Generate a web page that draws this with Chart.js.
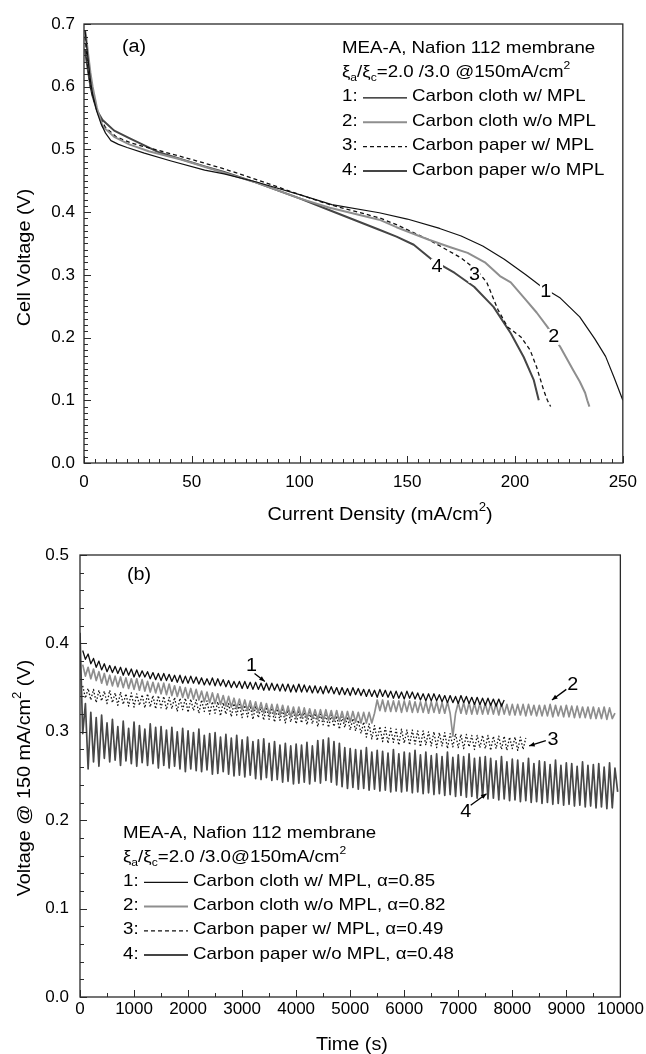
<!DOCTYPE html>
<html>
<head>
<meta charset="utf-8">
<script src="https://cdn.jsdelivr.net/npm/chart.js@4.4.1/dist/chart.umd.min.js"></script>
<style>
  html, body { margin: 0; padding: 0; background: #fff; }
  #wrap { position: relative; width: 646px; height: 1054px; overflow: hidden; background: #fff; }
  canvas { position: absolute; left: 0; }
  #polar { top: 0; }
  #durab { top: 530px; }
</style>
</head>
<body>
<div id="wrap">
  <canvas id="polar" width="646" height="530"></canvas>
  <canvas id="durab" width="646" height="524"></canvas>
</div>
<script>
// ===== (a) polarization curves: current density (mA/cm2) vs cell voltage (V) =====
const xTicksA = [0, 50, 100, 150, 200, 250];
const yTicksA = [0, 0.1, 0.2, 0.3, 0.4, 0.5, 0.6, 0.7];

const c1Current = [0.5,1,2,3,4,6,8,10,12.5,16,20,28,40,56,65,80,100,115,137,150,165,175,185,195,205,212,221,230,237,242,246,250];
const c1Voltage = [0.690,0.672,0.640,0.610,0.588,0.560,0.540,0.526,0.514,0.508,0.503,0.494,0.482,0.467,0.461,0.448,0.428,0.412,0.399,0.389,0.374,0.362,0.346,0.325,0.300,0.282,0.263,0.233,0.198,0.170,0.136,0.100];

const c2Current = [0.5,1,2,3,4,6,8.6,14,21,30,45,60,80,100,114,137,145,160,170,178,186,193,198,205,210,215,221,227,230,232.5,233.5,234.5];
const c2Voltage = [0.690,0.680,0.650,0.622,0.600,0.566,0.537,0.520,0.508,0.497,0.484,0.468,0.447,0.422,0.407,0.388,0.376,0.356,0.344,0.335,0.320,0.298,0.288,0.260,0.240,0.217,0.185,0.148,0.130,0.112,0.100,0.090];

const c3Current = [0.5,1,2,3,4,7,10,15,22,35,50,65,80,100,114,137,145,160,175,183,187,192,196.5,202.7,207,210,213.3,215,216.5];
const c3Voltage = [0.680,0.660,0.625,0.600,0.585,0.552,0.535,0.520,0.510,0.498,0.484,0.469,0.452,0.428,0.412,0.391,0.380,0.356,0.327,0.305,0.287,0.245,0.217,0.201,0.180,0.153,0.116,0.100,0.090];

const c4Current = [0.5,1,2,3,4,6,8.6,14,21,35,56,65,80,100,114,137,145,153,161.5,172,181,190,198,204,208.7,211];
const c4Voltage = [0.660,0.645,0.622,0.600,0.585,0.562,0.547,0.530,0.518,0.495,0.473,0.464,0.447,0.422,0.403,0.372,0.361,0.348,0.324,0.303,0.281,0.249,0.207,0.169,0.132,0.100];

const legendA = ["Carbon cloth w/ MPL", "Carbon cloth w/o MPL", "Carbon paper w/ MPL", "Carbon paper w/o MPL"];
// curve number labels (current, voltage)
const curveTagsA = [["1", 214.3, 0.273], ["2", 217.9, 0.201], ["3", 181.2, 0.300], ["4", 163.8, 0.313]];

// ===== (b) voltage @150 mA/cm2 vs time (s), one reading every 50 s =====
const xTicksB = [0, 1000, 2000, 3000, 4000, 5000, 6000, 7000, 8000, 9000, 10000];
const yTicksB = [0, 0.1, 0.2, 0.3, 0.4, 0.5];
const timeStep = 50;

const s1Start = 50;
const s1Volt = [
  0.392,0.382,0.388,0.377,0.383,0.373,0.380,0.370,0.377,0.368,
  0.375,0.367,0.374,0.366,0.373,0.364,0.372,0.364,0.371,0.362,
  0.370,0.362,0.369,0.362,0.368,0.360,0.367,0.359,0.366,0.358,
  0.366,0.358,0.365,0.357,0.364,0.356,0.364,0.355,0.363,0.355,
  0.363,0.355,0.362,0.354,0.361,0.353,0.360,0.353,0.361,0.352,
  0.360,0.352,0.359,0.351,0.358,0.350,0.357,0.350,0.357,0.349,
  0.357,0.349,0.356,0.348,0.356,0.348,0.355,0.347,0.355,0.347,
  0.355,0.347,0.354,0.346,0.354,0.346,0.354,0.345,0.353,0.345,
  0.354,0.345,0.353,0.345,0.352,0.344,0.352,0.344,0.351,0.343,
  0.352,0.344,0.351,0.343,0.350,0.342,0.350,0.342,0.349,0.341,
  0.350,0.342,0.349,0.341,0.348,0.340,0.348,0.340,0.347,0.339,
  0.348,0.340,0.347,0.339,0.346,0.338,0.346,0.338,0.345,0.337,
  0.346,0.338,0.345,0.337,0.344,0.336,0.343,0.335,0.343,0.335,
  0.343,0.335,0.342,0.334,0.341,0.333,0.341,0.333,0.340,0.332,
  0.341,0.333,0.340,0.332,0.339,0.331,0.339,0.331,0.338,0.330,
  0.338,0.330,0.337,0.329,0.337,0.329,0.336
];

const s2Start = 50;
const s2Volt = [
  0.376,0.363,0.373,0.360,0.371,0.358,0.368,0.355,0.366,0.353,
  0.364,0.352,0.363,0.351,0.362,0.350,0.361,0.349,0.360,0.348,
  0.360,0.347,0.359,0.346,0.357,0.345,0.356,0.344,0.355,0.343,
  0.355,0.342,0.354,0.341,0.352,0.340,0.351,0.339,0.350,0.338,
  0.349,0.337,0.348,0.336,0.346,0.334,0.345,0.333,0.344,0.332,
  0.343,0.331,0.341,0.329,0.340,0.328,0.338,0.326,0.337,0.325,
  0.336,0.324,0.335,0.323,0.334,0.322,0.333,0.321,0.332,0.320,
  0.331,0.319,0.331,0.319,0.330,0.318,0.329,0.317,0.328,0.316,
  0.328,0.316,0.327,0.315,0.326,0.315,0.325,0.314,0.325,0.313,
  0.325,0.313,0.324,0.312,0.324,0.312,0.323,0.311,0.323,0.311,
  0.323,0.311,0.322,0.310,0.322,0.310,0.322,0.310,0.321,0.336,
  0.324,0.336,0.323,0.335,0.323,0.335,0.323,0.335,0.322,0.335,
  0.323,0.335,0.322,0.334,0.322,0.334,0.322,0.334,0.321,0.334,
  0.322,0.334,0.321,0.333,0.321,0.334,0.321,0.295,0.321,0.333,
  0.321,0.333,0.320,0.333,0.320,0.332,0.320,0.332,0.320,0.332,
  0.320,0.332,0.320,0.332,0.319,0.332,0.320,0.331,0.319,0.331,
  0.319,0.331,0.319,0.331,0.318,0.331,0.319,0.330,0.318,0.330,
  0.318,0.330,0.318,0.331,0.317,0.330,0.318,0.329,0.317,0.330,
  0.317,0.329,0.316,0.329,0.316,0.328,0.316,0.328,0.315,0.328,
  0.315,0.327,0.315,0.328,0.314,0.327,0.315,0.321
];

const s3Start = 50;
const s3Volt = [
  0.352,0.338,0.349,0.336,0.348,0.333,0.347,0.335,0.346,0.332,
  0.347,0.333,0.344,0.330,0.345,0.331,0.343,0.329,0.344,0.328,
  0.343,0.330,0.342,0.327,0.343,0.328,0.341,0.326,0.341,0.327,
  0.340,0.325,0.339,0.326,0.339,0.323,0.338,0.325,0.338,0.322,
  0.337,0.324,0.336,0.321,0.336,0.323,0.335,0.320,0.334,0.321,
  0.334,0.318,0.333,0.320,0.332,0.317,0.332,0.319,0.331,0.316,
  0.330,0.317,0.330,0.314,0.329,0.316,0.328,0.313,0.328,0.314,
  0.327,0.311,0.326,0.313,0.325,0.310,0.325,0.311,0.324,0.309,
  0.323,0.310,0.322,0.308,0.322,0.309,0.321,0.306,0.320,0.308,
  0.319,0.305,0.319,0.306,0.318,0.303,0.317,0.305,0.317,0.302,
  0.315,0.301,0.313,0.298,0.311,0.294,0.309,0.292,0.307,0.290,
  0.306,0.289,0.305,0.287,0.304,0.288,0.303,0.285,0.303,0.287,
  0.302,0.285,0.302,0.286,0.301,0.283,0.301,0.285,0.300,0.284,
  0.300,0.282,0.299,0.284,0.299,0.281,0.298,0.283,0.298,0.282,
  0.297,0.281,0.297,0.283,0.296,0.280,0.296,0.282,0.296,0.281,
  0.296,0.279,0.295,0.281,0.295,0.280,0.295,0.279,0.294,0.281,
  0.294,0.279,0.294,0.280,0.293
];

const s4Start = 0;
const s4Volt = [
  0.412,
  0.298,0.332,0.258,0.322,0.266,0.316,0.261,0.319,0.270,0.310,
  0.266,0.314,0.268,0.306,0.262,0.312,0.267,0.304,0.264,0.311,
  0.261,0.307,0.265,0.303,0.262,0.309,0.264,0.305,0.259,0.306,
  0.262,0.302,0.259,0.305,0.261,0.300,0.258,0.304,0.255,0.301,
  0.258,0.299,0.256,0.303,0.255,0.296,0.257,0.298,0.252,0.299,
  0.253,0.294,0.255,0.297,0.252,0.293,0.250,0.296,0.251,0.291,
  0.249,0.294,0.251,0.289,0.247,0.291,0.246,0.292,0.248,0.287,
  0.245,0.289,0.246,0.285,0.243,0.287,0.244,0.284,0.241,0.286,
  0.242,0.285,0.243,0.288,0.241,0.284,0.244,0.290,0.242,0.291,
  0.245,0.293,0.243,0.289,0.240,0.287,0.238,0.282,0.236,0.281,
  0.237,0.280,0.235,0.279,0.236,0.282,0.234,0.277,0.235,0.279,
  0.233,0.278,0.234,0.276,0.232,0.280,0.233,0.275,0.232,0.277,
  0.233,0.276,0.231,0.279,0.232,0.274,0.230,0.277,0.231,0.273,
  0.229,0.275,0.230,0.272,0.228,0.277,0.229,0.271,0.227,0.274,
  0.228,0.272,0.226,0.275,0.227,0.270,0.225,0.271,0.226,0.272,
  0.224,0.270,0.225,0.267,0.223,0.272,0.224,0.266,0.222,0.269,
  0.223,0.268,0.221,0.265,0.222,0.270,0.220,0.264,0.221,0.267,
  0.219,0.266,0.220,0.263,0.218,0.268,0.219,0.262,0.217,0.265,
  0.218,0.264,0.216,0.261,0.217,0.266,0.215,0.262,0.216,0.263,
  0.214,0.264,0.215,0.260,0.213,0.265,0.214,0.259,0.232
];

const legendB = ["Carbon cloth w/ MPL, \u03b1=0.85", "Carbon cloth w/o MPL, \u03b1=0.82", "Carbon paper w/ MPL, \u03b1=0.49", "Carbon paper w/o MPL, \u03b1=0.48"];
// number label (time, volt) and arrow tail -> tip (time, volt)
const curveTagsB = [
  ["1", 3174, 0.374, 3230, 0.366, 3420, 0.357],
  ["2", 9119, 0.353, 9000, 0.348, 8734, 0.336],
  ["3", 8752, 0.291, 8620, 0.290, 8312, 0.284],
  ["4", 7138, 0.209, 7230, 0.217, 7523, 0.230]
];

// ---------------------------------------------------------------
const FONT = '"Liberation Sans", Arial, Helvetica, sans-serif';
const INK = "#000";
const STRETCH = 1.1;

// line looks per curve number: 1 thin black, 2 light grey, 3 dashed black, 4 dark grey
const looks = [
  { color: "#111", width: 1.2, dash: [] },
  { color: "#8e8e8e", width: 2, dash: [] },
  { color: "#111", width: 1.3, dash: [4, 3] },
  { color: "#454545", width: 2, dash: [] }
];

function pairUp(xs, ys) {
  return xs.map((x, i) => ({ x: x, y: ys[i] }));
}
function timeSeries(start, vals) {
  return vals.map((v, i) => ({ x: start + i * timeStep, y: v }));
}

function partsWidth(ctx, parts, size) {
  let w = 0;
  parts.forEach(([t, k]) => {
    ctx.font = (k ? Math.round(size * 0.65) : size) + "px " + FONT;
    w += ctx.measureText(t).width * STRETCH;
  });
  return w;
}

// draws text pieces, '' normal, 'sub' / 'sup' shifted and smaller
function drawParts(ctx, parts, x, y, size, align) {
  let cx = align === "center" ? x - partsWidth(ctx, parts, size) / 2 : x;
  ctx.textBaseline = "middle";
  ctx.textAlign = "left";
  ctx.fillStyle = INK;
  parts.forEach(([t, k]) => {
    const s = k ? Math.round(size * 0.65) : size;
    ctx.font = s + "px " + FONT;
    const dy = k === "sub" ? size * 0.33 : k === "sup" ? -size * 0.38 : 0;
    ctx.save();
    ctx.translate(cx, y + dy);
    ctx.scale(STRETCH, 1);
    ctx.fillText(t, 0, 0);
    ctx.restore();
    cx += ctx.measureText(t).width * STRETCH;
  });
}

function sampleLine(ctx, look, x1, x2, y) {
  ctx.save();
  ctx.strokeStyle = look.color;
  ctx.lineWidth = look.width;
  ctx.setLineDash(look.dash);
  ctx.beginPath();
  ctx.moveTo(x1, y);
  ctx.lineTo(x2, y);
  ctx.stroke();
  ctx.restore();
}

function frameTicks(ctx, scale, a, minor, major, vertical) {
  const n = Math.round((scale.max - scale.min) / minor);
  ctx.beginPath();
  for (let i = 0; i <= n; i++) {
    const v = scale.min + i * minor;
    const big = Math.abs(v / major - Math.round(v / major)) < 1e-6;
    const len = big ? 7 : 4;
    const p = Math.round(scale.getPixelForValue(v)) + 0.5;
    if (vertical) {
      ctx.moveTo(a.left, p);
      ctx.lineTo(a.left + len, p);
    } else {
      ctx.moveTo(p, a.bottom);
      ctx.lineTo(p, a.bottom - len);
    }
  }
  ctx.stroke();
}

function panelPlugin(cfg) {
  return {
    id: "panel" + cfg.tag,
    afterDatasetsDraw(chart) {
      const ctx = chart.ctx;
      const a = chart.chartArea;
      const xs = chart.scales.x, ys = chart.scales.y;
      ctx.save();

      // curve numbers
      cfg.tags.forEach(tg => {
        const px = xs.getPixelForValue(tg[1]);
        const py = ys.getPixelForValue(tg[2]);
        if (cfg.tagBox) {
          ctx.fillStyle = "#fff";
          ctx.fillRect(px - 6, py - 8, 12, 16);
        }
        if (tg.length > 3) {
          const x1 = xs.getPixelForValue(tg[3]), y1 = ys.getPixelForValue(tg[4]);
          const x2 = xs.getPixelForValue(tg[5]), y2 = ys.getPixelForValue(tg[6]);
          ctx.strokeStyle = INK;
          ctx.fillStyle = INK;
          ctx.lineWidth = 1.3;
          ctx.beginPath();
          ctx.moveTo(x1, y1);
          ctx.lineTo(x2, y2);
          ctx.stroke();
          const ang = Math.atan2(y2 - y1, x2 - x1);
          ctx.beginPath();
          ctx.moveTo(x2, y2);
          ctx.lineTo(x2 - 6 * Math.cos(ang - 0.4), y2 - 6 * Math.sin(ang - 0.4));
          ctx.lineTo(x2 - 6 * Math.cos(ang + 0.4), y2 - 6 * Math.sin(ang + 0.4));
          ctx.closePath();
          ctx.fill();
        }
        drawParts(ctx, [[tg[0], ""]], px, py, 18, "center");
      });

      // frame + inward ticks
      ctx.strokeStyle = "#2a2a2a";
      ctx.lineWidth = 1.3;
      ctx.strokeRect(a.left, a.top, a.right - a.left, a.bottom - a.top);
      ctx.lineWidth = 1;
      frameTicks(ctx, xs, a, cfg.xMinor, cfg.xMajor, false);
      frameTicks(ctx, ys, a, cfg.yMinor, cfg.yMajor, true);

      // panel letter
      drawParts(ctx, [[cfg.letter, ""]], a.left + cfg.letterAt[0], a.top + cfg.letterAt[1], 18, "left");

      // legend block
      const lx = a.left + cfg.legendAt[0];
      let ly = a.top + cfg.legendAt[1];
      drawParts(ctx, [["MEA-A, Nafion 112 membrane", ""]], lx, ly, 17, "left");
      ly += cfg.legendStep;
      drawParts(ctx, cfg.stoich, lx, ly, 17, "left");
      cfg.legend.forEach((txt, i) => {
        ly += cfg.legendStep;
        drawParts(ctx, [[(i + 1) + ":", ""]], lx, ly, 17, "left");
        sampleLine(ctx, looks[i], lx + 21, lx + 65, ly + 1);
        drawParts(ctx, [[txt, ""]], lx + 70, ly, 17, "left");
      });

      // axis titles
      drawParts(ctx, cfg.xTitle, a.left + cfg.xTitleAt[0], a.bottom + cfg.xTitleAt[1], 18, "center");
      ctx.save();
      ctx.translate(cfg.yTitleX, (a.top + a.bottom) / 2 + cfg.yTitleShift);
      ctx.rotate(-Math.PI / 2);
      drawParts(ctx, cfg.yTitle, 0, 0, 18, "center");
      ctx.restore();

      ctx.restore();
    }
  };
}

function axis(min, max, ticks, fmt, pad, fitFn) {
  return {
    type: "linear",
    min: min,
    max: max,
    grid: { display: false, drawTicks: false },
    border: { display: false },
    afterBuildTicks: s => { s.ticks = ticks.map(v => ({ value: v })); },
    ticks: {
      font: { family: FONT, size: 17 },
      color: INK,
      padding: pad,
      maxRotation: 0,
      autoSkip: false,
      callback: fmt
    },
    afterFit: fitFn
  };
}

function dataset(points, look) {
  return {
    data: points,
    borderColor: look.color,
    borderWidth: look.width,
    borderDash: look.dash,
    borderJoinStyle: "round",
    pointRadius: 0,
    fill: false,
    tension: 0
  };
}

const baseOptions = {
  responsive: false,
  animation: false,
  devicePixelRatio: 1,
  events: [],
  plugins: { legend: { display: false }, tooltip: { enabled: false } }
};

// ---- chart (a)
new Chart(document.getElementById("polar").getContext("2d"), {
  type: "line",
  data: {
    datasets: [
      dataset(pairUp(c1Current, c1Voltage), looks[0]),
      dataset(pairUp(c2Current, c2Voltage), looks[1]),
      dataset(pairUp(c3Current, c3Voltage), looks[2]),
      dataset(pairUp(c4Current, c4Voltage), looks[3])
    ]
  },
  options: Object.assign({}, baseOptions, {
    layout: { padding: { left: 0, right: 16, top: 24, bottom: 0 } },
    scales: {
      x: axis(0, 250, xTicksA, v => String(v), 9, s => { s.height = 67; }),
      y: axis(0, 0.7, yTicksA, v => v.toFixed(1), 9, s => { s.width = 84; })
    }
  }),
  plugins: [panelPlugin({
    tag: "A", letter: "(a)", letterAt: [38, 23],
    tags: curveTagsA, tagBox: true,
    xMinor: 5, xMajor: 50, yMinor: 0.01, yMajor: 0.1,
    legend: legendA, legendAt: [258, 24], legendStep: 24.4,
    stoich: [["\u03be", ""], ["a", "sub"], ["/\u03be", ""], ["c", "sub"], ["=2.0 /3.0 @150mA/cm", ""], ["2", "sup"]],
    xTitle: [["Current Density (mA/cm", ""], ["2", "sup"], [")", ""]],
    xTitleAt: [296, 52],
    yTitle: [["Cell Voltage (V)", ""]],
    yTitleX: 25, yTitleShift: 14
  })]
});

// ---- chart (b)
new Chart(document.getElementById("durab").getContext("2d"), {
  type: "line",
  data: {
    datasets: [
      dataset(timeSeries(s1Start, s1Volt), { color: "#0d0d0d", width: 1.3, dash: [] }),
      dataset(timeSeries(s2Start, s2Volt), { color: "#8e8e8e", width: 1.7, dash: [] }),
      dataset(timeSeries(s3Start, s3Volt), { color: "#111", width: 1.3, dash: [1.5, 2] }),
      dataset(timeSeries(s4Start, s4Volt), { color: "#484848", width: 1.7, dash: [] })
    ]
  },
  options: Object.assign({}, baseOptions, {
    layout: { padding: { left: 0, right: 21, top: 25, bottom: 0 } },
    scales: {
      x: axis(0, 10000, xTicksB, v => String(v), 2, s => { s.height = 57; }),
      y: axis(0, 0.5, yTicksB, v => v.toFixed(1), 11, s => { s.width = 80; })
    }
  }),
  plugins: [panelPlugin({
    tag: "B", letter: "(b)", letterAt: [47, 20],
    tags: curveTagsB, tagBox: false,
    xMinor: 500, xMajor: 1000, yMinor: 0.02, yMajor: 0.1,
    legend: legendB, legendAt: [43, 278], legendStep: 24.2,
    stoich: [["\u03be", ""], ["a", "sub"], ["/\u03be", ""], ["c", "sub"], ["=2.0 /3.0@150mA/cm", ""], ["2", "sup"]],
    xTitle: [["Time (s)", ""]],
    xTitleAt: [272, 48],
    yTitle: [["Voltage @ 150 mA/cm", ""], ["2", "sup"], [" (V)", ""]],
    yTitleX: 25, yTitleShift: 2
  })]
});
</script>
</body>
</html>
